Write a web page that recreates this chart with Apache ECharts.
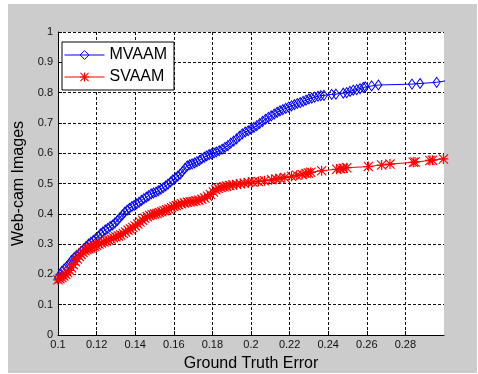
<!DOCTYPE html>
<html><head><meta charset="utf-8">
<script src="https://cdn.jsdelivr.net/npm/echarts@6/dist/echarts.min.js"></script>
<style>
html,body{margin:0;padding:0;background:#fff;}
#bg{position:absolute;left:8px;top:4px;width:469px;height:369px;background:#cccccc;}
#chart{position:absolute;left:0;top:0;width:478px;height:374px;}
</style></head><body>
<div id="bg"></div><div id="chart"></div>
<script>
const seriesNames = ['MVAAM', 'SVAAM'];
const xRange = [0.1, 0.3, 0.02];
const yRange = [0, 1, 0.1];
const xTitle = 'Ground Truth Error';
const yTitle = 'Web-cam Images';

const mvaam = [[0.1000,0.188],[0.1010,0.200],[0.1020,0.210],[0.1032,0.218],[0.1045,0.226],[0.1058,0.236],[0.1070,0.246],[0.1083,0.255],[0.1095,0.262],[0.1108,0.268],[0.1120,0.276],[0.1133,0.284],[0.1145,0.292],[0.1158,0.300],[0.1170,0.306],[0.1183,0.312],[0.1195,0.318],[0.1208,0.325],[0.1220,0.334],[0.1232,0.340],[0.1245,0.347],[0.1258,0.352],[0.1270,0.358],[0.1283,0.363],[0.1295,0.370],[0.1308,0.378],[0.1320,0.387],[0.1333,0.396],[0.1345,0.405],[0.1358,0.412],[0.1370,0.418],[0.1383,0.424],[0.1395,0.428],[0.1408,0.433],[0.1420,0.438],[0.1433,0.444],[0.1445,0.450],[0.1458,0.455],[0.1470,0.460],[0.1483,0.466],[0.1495,0.469],[0.1508,0.472],[0.1520,0.476],[0.1533,0.481],[0.1545,0.486],[0.1558,0.492],[0.1570,0.498],[0.1583,0.505],[0.1595,0.512],[0.1608,0.518],[0.1620,0.524],[0.1633,0.531],[0.1645,0.540],[0.1658,0.550],[0.1670,0.558],[0.1683,0.562],[0.1695,0.565],[0.1708,0.568],[0.1720,0.572],[0.1733,0.576],[0.1745,0.582],[0.1758,0.587],[0.1770,0.591],[0.1783,0.595],[0.1795,0.598],[0.1808,0.601],[0.1820,0.604],[0.1835,0.608],[0.1850,0.613],[0.1865,0.619],[0.1880,0.625],[0.1895,0.633],[0.1910,0.640],[0.1925,0.647],[0.1940,0.656],[0.1955,0.664],[0.1970,0.670],[0.1985,0.674],[0.2000,0.679],[0.2015,0.685],[0.2030,0.691],[0.2045,0.698],[0.2060,0.705],[0.2075,0.712],[0.2090,0.718],[0.2105,0.723],[0.2120,0.729],[0.2135,0.735],[0.2150,0.740],[0.2165,0.744],[0.2180,0.748],[0.2195,0.752],[0.2210,0.756],[0.2225,0.760],[0.2240,0.764],[0.2255,0.767],[0.2270,0.771],[0.2285,0.775],[0.2300,0.779],[0.2315,0.782],[0.2330,0.785],[0.2347,0.788],[0.2362,0.790],[0.2378,0.791],[0.2418,0.794],[0.2440,0.795],[0.2478,0.798],[0.2496,0.800],[0.2513,0.804],[0.2530,0.808],[0.2548,0.810],[0.2565,0.813],[0.2582,0.817],[0.2592,0.819],[0.2625,0.822],[0.2660,0.825],[0.2834,0.828],[0.2876,0.830],[0.2962,0.834],[0.3020,0.840]];

const svaam = [[0.1000,0.182],[0.1010,0.186],[0.1020,0.190],[0.1030,0.195],[0.1040,0.200],[0.1050,0.206],[0.1060,0.213],[0.1070,0.222],[0.1080,0.232],[0.1090,0.242],[0.1100,0.251],[0.1110,0.259],[0.1120,0.266],[0.1130,0.272],[0.1140,0.278],[0.1150,0.282],[0.1160,0.285],[0.1170,0.287],[0.1180,0.290],[0.1190,0.293],[0.1200,0.296],[0.1212,0.300],[0.1225,0.304],[0.1238,0.307],[0.1250,0.310],[0.1263,0.313],[0.1275,0.317],[0.1288,0.321],[0.1300,0.324],[0.1313,0.327],[0.1325,0.330],[0.1338,0.335],[0.1350,0.340],[0.1363,0.346],[0.1375,0.350],[0.1388,0.355],[0.1400,0.360],[0.1413,0.366],[0.1425,0.373],[0.1438,0.379],[0.1450,0.385],[0.1463,0.390],[0.1475,0.394],[0.1488,0.397],[0.1500,0.399],[0.1513,0.401],[0.1525,0.404],[0.1538,0.407],[0.1550,0.410],[0.1563,0.413],[0.1575,0.416],[0.1588,0.420],[0.1600,0.424],[0.1613,0.427],[0.1625,0.430],[0.1640,0.433],[0.1655,0.436],[0.1670,0.438],[0.1685,0.440],[0.1700,0.441],[0.1715,0.443],[0.1730,0.445],[0.1745,0.448],[0.1760,0.452],[0.1775,0.458],[0.1790,0.464],[0.1805,0.472],[0.1818,0.479],[0.1830,0.484],[0.1845,0.487],[0.1860,0.489],[0.1874,0.491],[0.1890,0.493],[0.1905,0.495],[0.1926,0.497],[0.1945,0.499],[0.1965,0.501],[0.1986,0.503],[0.2010,0.505],[0.2038,0.507],[0.2070,0.509],[0.2107,0.512],[0.2130,0.515],[0.2150,0.517],[0.2175,0.520],[0.2210,0.524],[0.2237,0.527],[0.2265,0.530],[0.2285,0.533],[0.2297,0.535],[0.2310,0.537],[0.2366,0.542],[0.2444,0.547],[0.2465,0.549],[0.2478,0.550],[0.2496,0.552],[0.2608,0.556],[0.2677,0.561],[0.2720,0.564],[0.2841,0.570],[0.2850,0.571],[0.2927,0.576],[0.2940,0.577],[0.2997,0.581]];

const FONT = 'Arial, "Liberation Sans", sans-serif';
const starPath = 'path://M0 4.4L10 4.4L10 5.6L0 5.6Z M4.4 0L5.6 0L5.6 10L4.4 10Z M0.8 0L10 9.2L9.2 10L0 0.8Z M9.2 0L10 0.8L0.8 10L0 9.2Z';

const chart = echarts.init(document.getElementById('chart'), null, {renderer: 'canvas'});
const gridLine = {show: true, lineStyle: {color: '#111', width: 1, type: [3, 2]}};
chart.setOption({
  animation: false,
  backgroundColor: 'transparent',
  grid: {left: 58, right: 34, top: 32, bottom: 39, show: true, backgroundColor: '#fff', borderWidth: 0, containLabel: false, outerBoundsMode: 'none'},
  legend: {
    data: seriesNames, orient: 'vertical', left: 62, top: 42, selectedMode: false,
    backgroundColor: '#fff', borderColor: '#000', borderWidth: 1, borderRadius: 0,
    padding: [5, 7, 5, 2], itemWidth: 40, itemHeight: 11, itemGap: 6,
    lineStyle: {width: 1},
    itemStyle: {borderWidth: 1},
    textStyle: {fontSize: 16, fontFamily: FONT, color: '#000', lineHeight: 16}
  },
  xAxis: {
    type: 'value', min: xRange[0], max: xRange[1], interval: xRange[2],
    name: xTitle, nameLocation: 'middle', nameGap: 21,
    nameTextStyle: {fontSize: 16, fontFamily: FONT, color: '#000'},
    axisLine: {show: true, onZero: false, lineStyle: {color: '#000', width: 1}},
    axisTick: {show: true, inside: true, length: 4, lineStyle: {color: '#000'}},
    axisLabel: {fontSize: 11, fontFamily: FONT, color: '#111', margin: 4, showMaxLabel: false, showMinLabel: true},
    splitLine: Object.assign({}, gridLine, {showMinLine: false, showMaxLine: false})
  },
  yAxis: {
    type: 'value', min: yRange[0], max: yRange[1], interval: yRange[2],
    name: yTitle, nameLocation: 'middle', nameGap: 23, nameRotate: 90,
    nameTextStyle: {fontSize: 16, fontFamily: FONT, color: '#000'},
    axisLine: {show: true, onZero: false, lineStyle: {color: '#000', width: 1}},
    axisTick: {show: true, inside: true, length: 4, lineStyle: {color: '#000'}},
    axisLabel: {fontSize: 11, fontFamily: FONT, color: '#111', margin: 5, showMaxLabel: true, showMinLabel: true},
    splitLine: Object.assign({}, gridLine, {showMinLine: false, showMaxLine: true})
  },
  series: [
    {
      name: seriesNames[0], type: 'line', data: mvaam, clip: true,
      symbol: 'diamond', symbolSize: [7, 10], showSymbol: true, showAllSymbol: true,
      lineStyle: {color: '#0000ff', width: 1},
      itemStyle: {color: 'rgba(255,255,255,0)', borderColor: '#0000ff', borderWidth: 1},
      emphasis: {disabled: true}
    },
    {
      name: seriesNames[1], type: 'line', data: svaam, clip: true,
      symbol: starPath, symbolSize: 10, showSymbol: true, showAllSymbol: true,
      lineStyle: {color: '#ff0000', width: 1},
      itemStyle: {color: '#ff0000', borderWidth: 0},
      emphasis: {disabled: true}
    }
  ]
});
</script>
</body></html>
